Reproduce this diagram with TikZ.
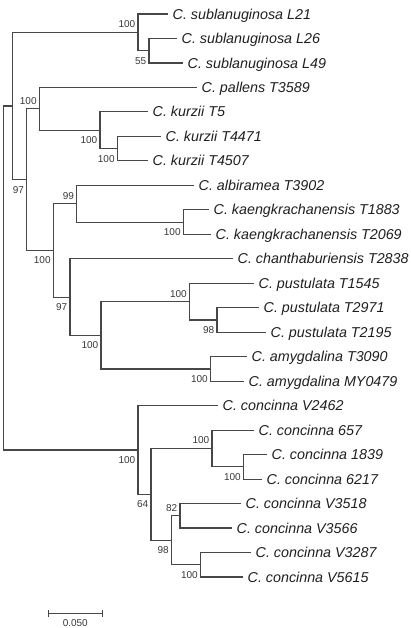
\documentclass[tikz,border=0pt]{standalone}
\usepackage{fontspec}
\setmainfont{Liberation Sans}
\newcommand\lffont{\fontsize{14.3}{16}\selectfont\itshape}
\newcommand\bsfnt{\fontsize{10}{12}\selectfont}
\begin{document}
\begin{tikzpicture}[x=1pt,y=-1pt,
  br/.style={draw=black!72, line width=1.1pt},
  leaf/.style={anchor=base west, inner sep=0pt, font=\lffont, text=black!88},
  bs/.style={anchor=east, inner sep=0pt, font=\bsfnt, text=black!78},
  sbl/.style={anchor=center, inner sep=0pt, font=\bsfnt, text=black!78}]
\useasboundingbox (0,0) rectangle (410,628);
% leaves (line ends)
\coordinate (sL21) at (168,14.0);
\coordinate (sL26) at (177,38.5);
\coordinate (sL49) at (183,63.0);
\coordinate (pT3589) at (197,87.4);
\coordinate (kT5) at (148,111.9);
\coordinate (kT4471) at (161,136.4);
\coordinate (kT4507) at (148,160.9);
\coordinate (aT3902) at (194,185.3);
\coordinate (kaT1883) at (209,209.8);
\coordinate (kaT2069) at (211,234.3);
\coordinate (chT2838) at (233,258.8);
\coordinate (puT1545) at (254,283.3);
\coordinate (puT2971) at (259,307.7);
\coordinate (puT2195) at (266,332.2);
\coordinate (amT3090) at (247,356.7);
\coordinate (amMY0479) at (244,381.2);
\coordinate (cV2462) at (218,405.6);
\coordinate (c657) at (254,430.1);
\coordinate (c1839) at (267,454.6);
\coordinate (c6217) at (262,479.1);
\coordinate (cV3518) at (241,503.6);
\coordinate (cV3566) at (232,528.0);
\coordinate (cV3287) at (251,552.5);
\coordinate (cV5615) at (243,577.0);
% internal nodes
\coordinate (nS2) at (149,50.75);
\coordinate (nSUB) at (138,32.4);
\coordinate (nK2) at (117.3,148.65);
\coordinate (nK) at (100,130.3);
\coordinate (nP) at (39.3,108.85);
\coordinate (nKA) at (183.3,222.05);
\coordinate (nA) at (76.7,203.7);
\coordinate (nPU2) at (217,319.95);
\coordinate (nPU) at (189.5,301.6);
\coordinate (nAM) at (210.5,368.95);
\coordinate (nC) at (101,335.3);
\coordinate (nB) at (70,297.05);
\coordinate (nQ) at (53.3,250.4);
\coordinate (nY) at (26.7,179.6);
\coordinate (nX) at (12.3,106);
\coordinate (nN1839) at (243.5,466.85);
\coordinate (nN657) at (212,448.5);
\coordinate (nC82) at (180,515.8);
\coordinate (nC100) at (200.5,564.75);
\coordinate (nC98) at (171.5,540.3);
\coordinate (nC64) at (151,494.4);
\coordinate (nCON) at (138,450.0);
\coordinate (nR) at (3.3,278);
% branches
\draw[br] (nR) |- (nX) (nR) |- (nCON);
\draw[br] (nX) |- (nSUB) (nX) |- (nY);
\draw[br] (nSUB) |- (sL21) (nSUB) |- (nS2);
\draw[br] (nS2) |- (sL26) (nS2) |- (sL49);
\draw[br] (nY) |- (nP) (nY) |- (nQ);
\draw[br] (nP) |- (pT3589) (nP) |- (nK);
\draw[br] (nK) |- (kT5) (nK) |- (nK2);
\draw[br] (nK2) |- (kT4471) (nK2) |- (kT4507);
\draw[br] (nQ) |- (nA) (nQ) |- (nB);
\draw[br] (nA) |- (aT3902) (nA) |- (nKA);
\draw[br] (nKA) |- (kaT1883) (nKA) |- (kaT2069);
\draw[br] (nB) |- (chT2838) (nB) |- (nC);
\draw[br] (nC) |- (nPU) (nC) |- (nAM);
\draw[br] (nPU) |- (puT1545) (nPU) |- (nPU2);
\draw[br] (nPU2) |- (puT2971) (nPU2) |- (puT2195);
\draw[br] (nAM) |- (amT3090) (nAM) |- (amMY0479);
\draw[br] (nCON) |- (cV2462) (nCON) |- (nC64);
\draw[br] (nC64) |- (nN657) (nC64) |- (nC98);
\draw[br] (nN657) |- (c657) (nN657) |- (nN1839);
\draw[br] (nN1839) |- (c1839) (nN1839) |- (c6217);
\draw[br] (nC98) |- (nC82) (nC98) |- (nC100);
\draw[br] (nC82) |- (cV3518) (nC82) |- (cV3566);
\draw[br] (nC100) |- (cV3287) (nC100) |- (cV5615);
% leaf labels
\node[leaf] (tsL21) at ([shift={(4.5,5.1)}]sL21) {C. sublanuginosa L21};
\node[leaf] (tsL26) at ([shift={(4.5,5.1)}]sL26) {C. sublanuginosa L26};
\node[leaf] (tsL49) at ([shift={(4.5,5.1)}]sL49) {C. sublanuginosa L49};
\node[leaf] (tpT3589) at ([shift={(4.5,5.1)}]pT3589) {C. pallens T3589};
\node[leaf] (tkT5) at ([shift={(4.5,5.1)}]kT5) {C. kurzii T5};
\node[leaf] (tkT4471) at ([shift={(4.5,5.1)}]kT4471) {C. kurzii T4471};
\node[leaf] (tkT4507) at ([shift={(4.5,5.1)}]kT4507) {C. kurzii T4507};
\node[leaf] (taT3902) at ([shift={(4.5,5.1)}]aT3902) {C. albiramea T3902};
\node[leaf] (tkaT1883) at ([shift={(4.5,5.1)}]kaT1883) {C. kaengkrachanensis T1883};
\node[leaf] (tkaT2069) at ([shift={(4.5,5.1)}]kaT2069) {C. kaengkrachanensis T2069};
\node[leaf] (tchT2838) at ([shift={(4.5,5.1)}]chT2838) {C. chanthaburiensis T2838};
\node[leaf] (tpuT1545) at ([shift={(4.5,5.1)}]puT1545) {C. pustulata T1545};
\node[leaf] (tpuT2971) at ([shift={(4.5,5.1)}]puT2971) {C. pustulata T2971};
\node[leaf] (tpuT2195) at ([shift={(4.5,5.1)}]puT2195) {C. pustulata T2195};
\node[leaf] (tamT3090) at ([shift={(4.5,5.1)}]amT3090) {C. amygdalina T3090};
\node[leaf] (tamMY0479) at ([shift={(4.5,5.1)}]amMY0479) {C. amygdalina MY0479};
\node[leaf] (tcV2462) at ([shift={(4.5,5.1)}]cV2462) {C. concinna V2462};
\node[leaf] (tc657) at ([shift={(4.5,5.1)}]c657) {C. concinna 657};
\node[leaf] (tc1839) at ([shift={(4.5,5.1)}]c1839) {C. concinna 1839};
\node[leaf] (tc6217) at ([shift={(4.5,5.1)}]c6217) {C. concinna 6217};
\node[leaf] (tcV3518) at ([shift={(4.5,5.1)}]cV3518) {C. concinna V3518};
\node[leaf] (tcV3566) at ([shift={(4.5,5.1)}]cV3566) {C. concinna V3566};
\node[leaf] (tcV3287) at ([shift={(4.5,5.1)}]cV3287) {C. concinna V3287};
\node[leaf] (tcV5615) at ([shift={(4.5,5.1)}]cV5615) {C. concinna V5615};
% bootstrap values
\node[bs] (bSUB) at ([shift={(-2.5,-8)}]nSUB) {100};
\node[bs] (bS2) at ([shift={(-2.5,10)}]nS2) {55};
\node[bs] (bY) at ([shift={(-2.5,10)}]nY) {97};
\node[bs] (bP) at ([shift={(-2.5,-8)}]nP) {100};
\node[bs] (bK) at ([shift={(-2.5,10)}]nK) {100};
\node[bs] (bK2) at ([shift={(-2.5,10)}]nK2) {100};
\node[bs] (bQ) at ([shift={(-2.5,10)}]nQ) {100};
\node[bs] (bA) at ([shift={(-2.5,-8)}]nA) {99};
\node[bs] (bKA) at ([shift={(-2.5,10)}]nKA) {100};
\node[bs] (bB) at ([shift={(-2.5,10)}]nB) {97};
\node[bs] (bC) at ([shift={(-2.5,10)}]nC) {100};
\node[bs] (bPU) at ([shift={(-2.5,-8)}]nPU) {100};
\node[bs] (bPU2) at ([shift={(-2.5,10)}]nPU2) {98};
\node[bs] (bAM) at ([shift={(-2.5,10)}]nAM) {100};
\node[bs] (bCON) at ([shift={(-2.5,10)}]nCON) {100};
\node[bs] (bN657) at ([shift={(-2.5,-8)}]nN657) {100};
\node[bs] (bN1839) at ([shift={(-2.5,10)}]nN1839) {100};
\node[bs] (bC64) at ([shift={(-2.5,10)}]nC64) {64};
\node[bs] (bC82) at ([shift={(-2.5,-8)}]nC82) {82};
\node[bs] (bC98) at ([shift={(-2.5,10)}]nC98) {98};
\node[bs] (bC100) at ([shift={(-2.5,10)}]nC100) {100};
% scale bar
\coordinate (sb1) at (48.3,613.3);
\coordinate (sb2) at (102.3,613.3);
\draw[br] (sb1) -- (sb2);
\draw[br] ([yshift=3.3pt]sb1) -- ([yshift=-3.3pt]sb1);
\draw[br] ([yshift=3.3pt]sb2) -- ([yshift=-3.3pt]sb2);
\node[sbl] (sblab) at (75.3,622.7) {0.050};
\end{tikzpicture}
\end{document}
